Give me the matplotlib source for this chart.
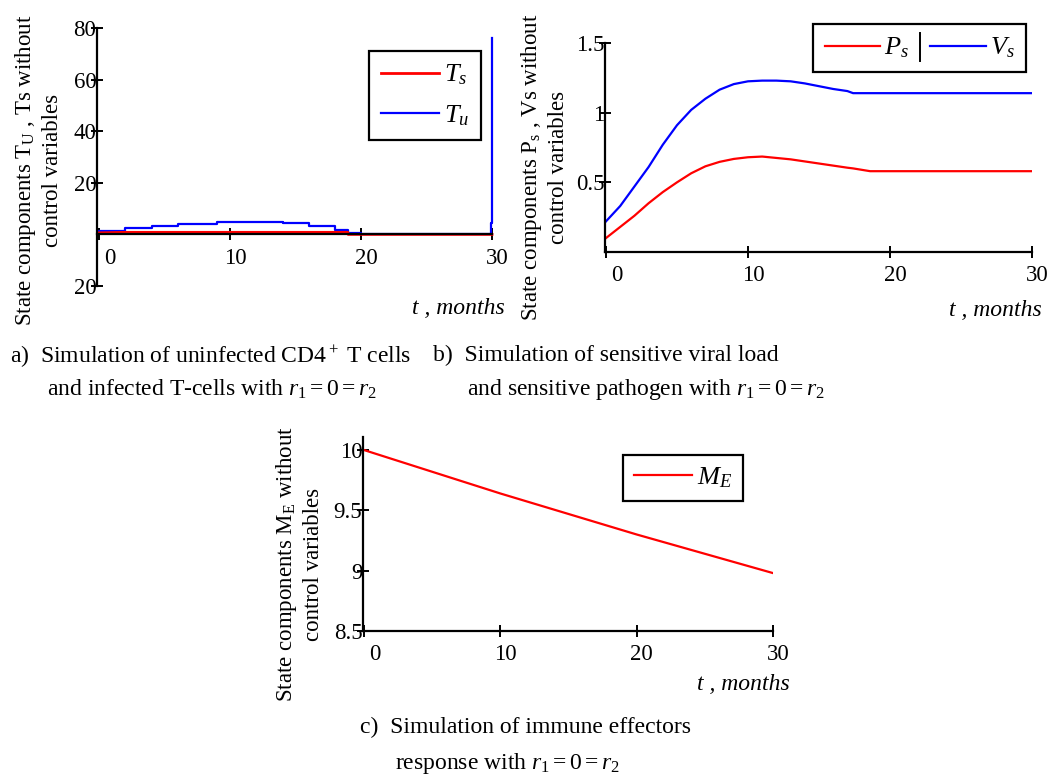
import matplotlib
matplotlib.use("Agg")
import matplotlib.pyplot as plt
import matplotlib.transforms as mtransforms
from matplotlib.lines import Line2D

plt.rcParams["font.family"] = ["Liberation Serif", "DejaVu Serif"]
plt.rcParams["mathtext.fontset"] = "custom"
plt.rcParams["mathtext.rm"] = "Liberation Serif"
plt.rcParams["mathtext.it"] = "Liberation Serif:italic"

# ── data ──
# a) uninfected / infected T cells (staircase output)
t_a = [0, 2, 4, 6, 9, 14, 16, 18, 19, 20, 29.85, 29.92, 30]
Tu = [1.5, 2.4, 3.2, 4.2, 4.8, 4.3, 3.2, 1.8, 0.6, 0.3, 0.3, 4.5, 76]
t_ts = [0, 2, 19, 19.01, 30]
Ts = [0.6, 0.8, 0.8, 0.0, 0.0]

# b) sensitive pathogen / viral load
t_b = [0, 1, 2, 3, 4, 5, 6, 7, 8, 9, 10, 11, 12, 13, 14, 15, 16, 17, 17.4, 18.6, 20, 25, 30]
Ps = [0.10, 0.18, 0.26, 0.35, 0.43, 0.50, 0.565, 0.615, 0.647, 0.668, 0.68, 0.685, 0.675,
      0.665, 0.65, 0.635, 0.62, 0.605, 0.60, 0.58, 0.58, 0.58, 0.58]
Vs = [0.22, 0.33, 0.47, 0.61, 0.77, 0.91, 1.02, 1.10, 1.165, 1.205, 1.225, 1.23, 1.23,
      1.225, 1.21, 1.19, 1.17, 1.155, 1.14, 1.14, 1.14, 1.14, 1.14]

# c) immune effectors
t_c = [0, 5, 10, 15, 20, 25, 30]
ME = [10.0, 9.82, 9.64, 9.47, 9.30, 9.14, 8.98]

x_ticks = [0, 10, 20, 30]
x_ticklabels = ["0", "10", "20", "30"]
ya_ticks = [-20, 20, 40, 60, 80]
ya_ticklabels = ["20", "20", "40", "60", "80"]
yb_ticks = [0.5, 1, 1.5]
yb_ticklabels = ["0.5", "1", "1.5"]
yc_ticks = [8.5, 9, 9.5, 10]
yc_ticklabels = ["8.5", "9", "9.5", "10"]

W, H = 1052, 775
RED, BLUE = "#ff0000", "#0000ff"
LEG_FS = 19


def fx(px):
    return px / W


def fy(py):
    return 1 - py / H


def axes_px(fig, left, right, top, bottom):
    return fig.add_axes([fx(left), fy(bottom), (right - left) / W, (bottom - top) / H])


def style(ax, yticks, ylabels, x0):
    for s in ("top", "right"):
        ax.spines[s].set_visible(False)
    for s in ("left", "bottom"):
        ax.spines[s].set_linewidth(1.6)
    ax.set_xticks(x_ticks)
    ax.set_xticklabels(x_ticklabels)
    ax.set_yticks(yticks)
    ax.set_yticklabels(ylabels)
    ax.tick_params(axis="both", direction="inout", length=9, width=1.4, labelsize=16.5)
    ax.tick_params(axis="y", pad=-4)
    ax.tick_params(axis="x", pad=5)
    ax.set_xlim(x0, 30)
    ax.patch.set_alpha(0)
    # Mathcad draws x labels a bit right of their ticks (the "0" more so)
    for i, lab in enumerate(ax.get_xticklabels()):
        dx = 11 if i == 0 else 5
        lab.set_transform(lab.get_transform() +
                          mtransforms.ScaledTranslation(dx / 100, 0, ax.figure.dpi_scale_trans))


def legend(ax, handles, labels, x, y, ncol=1, **kw):
    opts = dict(handlelength=2.2, columnspacing=0.9, handletextpad=0.2,
                borderpad=0.35, labelspacing=0.45)
    opts.update(kw)
    lg = ax.legend(handles, labels, loc="upper left", bbox_to_anchor=(fx(x), fy(y)),
                   bbox_transform=ax.figure.transFigure, borderaxespad=0,
                   fancybox=False, framealpha=1, edgecolor="black", fontsize=LEG_FS,
                   ncol=ncol, **opts)
    lg.get_frame().set_linewidth(1.6)
    return lg


def xlabel(fig, right, y):
    fig.text(fx(right), fy(y), "t , months", ha="right", va="center",
             fontsize=17, style="italic")


def ylabel(fig, x, y, text):
    fig.text(fx(x), fy(y), text, rotation=90, ha="center", va="center",
             fontsize=16.5, linespacing=1.3)


fig = plt.figure(figsize=(W / 100, H / 100), dpi=100)

# ── a) ──
ax = axes_px(fig, 97, 492, 28, 286)
lu, = ax.plot(t_a, Tu, color=BLUE, lw=1.6, drawstyle="steps-post", clip_on=False)
ls, = ax.plot(t_ts, Ts, color=RED, lw=2.0, clip_on=False)
ax.set_ylim(-20, 80)
ax.spines["bottom"].set_position(("data", 0))
style(ax, ya_ticks, ya_ticklabels, -0.17)
legend(ax, [ls, lu], ["$T_s$", "$T_u$"], 369, 51, borderpad=0.45, labelspacing=0.6)
xlabel(fig, 505, 308)
ylabel(fig, 38, 170, "State components T$_\\mathregular{U}$ , Ts without\ncontrol variables")

# ── b) ──
ax = axes_px(fig, 605, 1032, 43, 252)
lp, = ax.plot(t_b, Ps, color=RED, lw=1.6)
lv, = ax.plot(t_b, Vs, color=BLUE, lw=1.6)
ax.set_ylim(0, 1.5)
style(ax, yb_ticks, yb_ticklabels, -0.07)
lg_b = legend(ax, [lp, lv], ["$P_s$", "$V_s$"], 813, 24, ncol=2,
              handlelength=2.1, borderpad=0.45, columnspacing=0.8, handletextpad=0.15)
xlabel(fig, 1042, 310)
ylabel(fig, 544, 167, "State components P$_\\mathregular{s}$ , Vs without\ncontrol variables")

# ── c) ──
ax = axes_px(fig, 363, 773, 437, 631)
lm, = ax.plot(t_c, ME, color=RED, lw=1.6)
ax.set_ylim(8.5, 10.108)
style(ax, yc_ticks, yc_ticklabels, -0.07)
legend(ax, [lm], ["$M_E$"], 623, 455, borderpad=0.4)
xlabel(fig, 790, 685)
ylabel(fig, 299, 564, "State components M$_\\mathregular{E}$ without\ncontrol variables")

# ── captions ──
cap = dict(fontsize=17, ha="left", va="center")
fig.text(fx(10), fy(357), "a)  Simulation of uninfected CD4$^+$ T cells", **cap)
fig.text(fx(47), fy(389), "and infected T-cells with $r_1 = 0 = r_2$", **cap)
fig.text(fx(433), fy(355), "b)  Simulation of sensitive viral load", **cap)
fig.text(fx(467), fy(389), "and sensitive pathogen with $r_1 = 0 = r_2$", **cap)
fig.text(fx(360), fy(727), "c)  Simulation of immune effectors", **cap)
fig.text(fx(395), fy(764), "response with $r_1 = 0 = r_2$", **cap)

# separator bar between the two entries of legend b
fig.canvas.draw()
bb0 = lg_b.get_texts()[0].get_window_extent()
fr = lg_b.get_frame().get_window_extent()
xs = bb0.x1 + 0.4 * LEG_FS * fig.dpi / 72
fig.add_artist(Line2D([xs / W, xs / W], [(fr.y0 + 11) / H, (fr.y1 - 9) / H],
                      color="black", lw=1.4))

fig.savefig("out.png", dpi=100, facecolor="white")
